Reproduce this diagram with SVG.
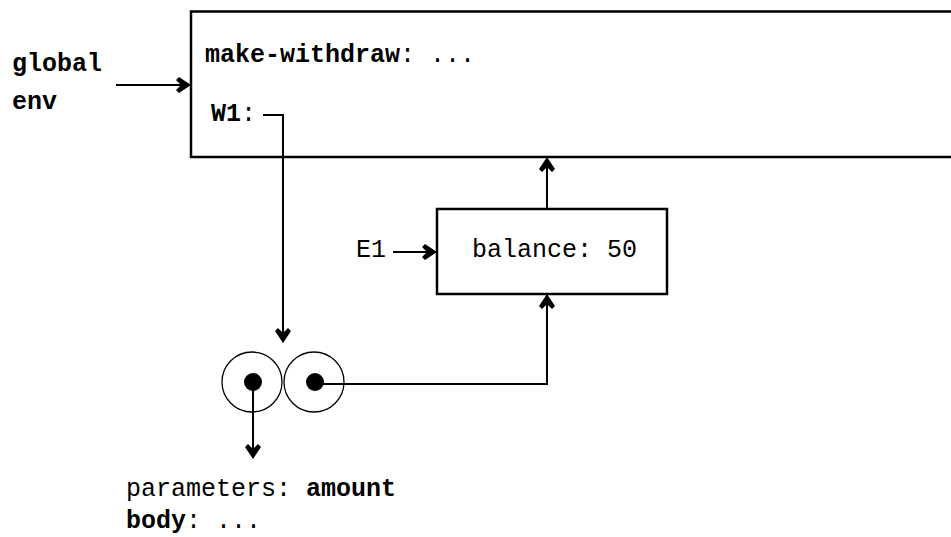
<svg xmlns="http://www.w3.org/2000/svg" width="951" height="537" viewBox="0 0 951 537">
<style>
text{font-family:"Liberation Mono","DejaVu Sans Mono",monospace;font-size:25px;fill:#000}
.b{font-weight:bold}
.box{fill:#fff;stroke:#000;stroke-width:2.5}
.ln{fill:none;stroke:#000;stroke-width:2}
.cell{fill:none;stroke:#000;stroke-width:1.3}
</style>
<defs>
<marker id="ah" viewBox="0 0 16 16" refX="15" refY="8" markerWidth="16" markerHeight="16" markerUnits="userSpaceOnUse" orient="auto">
<path d="M16,8 L4,0 L1,3 L6,8 L1,13 L4,16 Z" fill="#000"/>
</marker>
</defs>
<rect width="951" height="537" fill="#fff"/>
<g id="global-env">
<rect class="box" x="191" y="11.5" width="780" height="145.5"/>
<text x="205" y="62" class="b">make-withdraw<tspan font-weight="normal">: ...</tspan></text>
<text x="211" y="121" class="b">W1<tspan font-weight="normal">:</tspan></text>
</g>
<g id="global-label">
<text x="12" y="71" class="b">global</text>
<text x="12" y="109" class="b">env</text>
</g>
<g id="E1">
<rect class="box" x="437" y="209" width="230" height="85"/>
<text x="472" y="257">balance: 50</text>
</g>
<g id="E1-label">
<text x="356" y="257">E1</text>
</g>
<g id="procedure">
<circle class="cell" cx="252" cy="382" r="30"/>
<circle class="cell" cx="314" cy="382" r="30"/>
<circle cx="253" cy="382" r="9" fill="#000"/>
<circle cx="315" cy="382" r="9" fill="#000"/>
</g>
<g id="procedure-text">
<text x="126" y="496">parameters: <tspan class="b">amount</tspan></text>
<text x="126" y="528"><tspan class="b">body</tspan>: ...</text>
</g>
<g id="connectors">
<line class="ln" x1="116" y1="85" x2="190" y2="85" marker-end="url(#ah)"/>
<path class="ln" d="M263,115 H283 V342" marker-end="url(#ah)"/>
<line class="ln" x1="393" y1="252" x2="436" y2="252" marker-end="url(#ah)"/>
<line class="ln" x1="547" y1="209" x2="547" y2="158" marker-end="url(#ah)"/>
<path class="ln" d="M315,384 H547 V295" marker-end="url(#ah)"/>
<line class="ln" x1="253" y1="382" x2="253" y2="458" marker-end="url(#ah)"/>
</g>
</svg>
